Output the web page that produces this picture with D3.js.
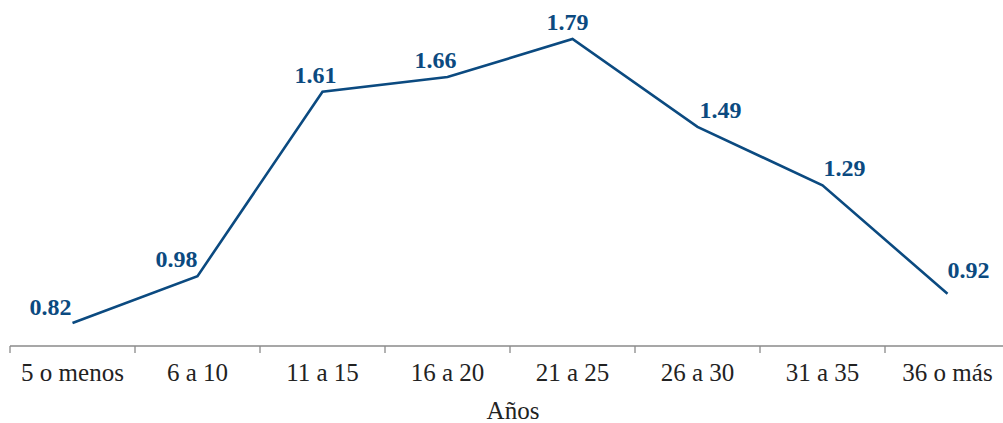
<!DOCTYPE html>
<html><head><meta charset="utf-8">
<script src="https://cdn.jsdelivr.net/npm/d3@7"></script>
<style>html,body{margin:0;padding:0;background:#fff;overflow:hidden}
svg text{font-family:"Liberation Serif","DejaVu Serif",serif;}</style>
</head><body><svg id="c" width="1003" height="423"></svg>
<script>
const categories = ["5 o menos","6 a 10","11 a 15","16 a 20","21 a 25","26 a 30","31 a 35","36 o más"];
const values = [0.82,0.98,1.61,1.66,1.79,1.49,1.29,0.92];
const valueLabels = ["0.82","0.98","1.61","1.66","1.79","1.49","1.29","0.92"];
const axisTitle = "Años";
// label placement (style): offsets relative to point
const labelDx = [-22,-21,-7,-12,-5,23,22,21];
const labelDy = [-8,-9,-9,-9,-9,-9,-9,-16];

const blue = "#0b4a80";
const svg = d3.select("#c");
const x = d3.scaleBand().domain(categories).range([10,1010]).padding(0);
const y = d3.scaleLinear().domain([0.82,1.79]).range([323,39]);
const axisY = 346;

// axis baseline
svg.append("line").attr("x1",10).attr("x2",1010).attr("y1",axisY).attr("y2",axisY)
  .attr("stroke","#8a8a8a").attr("stroke-width",1.3);
// boundary ticks
svg.selectAll(".tk").data(categories).enter().append("line")
  .attr("x1",d=>x(d)).attr("x2",d=>x(d)).attr("y1",axisY).attr("y2",axisY+7)
  .attr("stroke","#8a8a8a").attr("stroke-width",1.3);

const ax = svg.append("g").attr("transform",`translate(0,${axisY})`)
  .call(d3.axisBottom(x).tickSize(0).tickPadding(0));
ax.attr("font-family",null).attr("font-size",null);
ax.select(".domain").remove();
ax.selectAll("text").attr("dy",null).attr("y",35)
  .style("font-size","25px").attr("fill","#222");

svg.append("text").attr("x",513).attr("y",419).attr("text-anchor","middle")
  .style("font-size","25px").attr("fill","#222").text(axisTitle);

const cx = d => x(d) + x.bandwidth()/2;
const line = d3.line().x((d,i)=>cx(categories[i])).y(d=>y(d));
svg.append("path").datum(values).attr("d",line).attr("fill","none")
  .attr("stroke",blue).attr("stroke-width",2.6).attr("stroke-linejoin","miter");

svg.selectAll(".vl").data(values).enter().append("text")
  .attr("x",(d,i)=>cx(categories[i])+labelDx[i])
  .attr("y",(d,i)=>y(d)+labelDy[i])
  .attr("text-anchor","middle")
  .style("font-size","24px").style("font-weight","bold")
  .attr("fill",blue).text((d,i)=>valueLabels[i]);
</script></body></html>
